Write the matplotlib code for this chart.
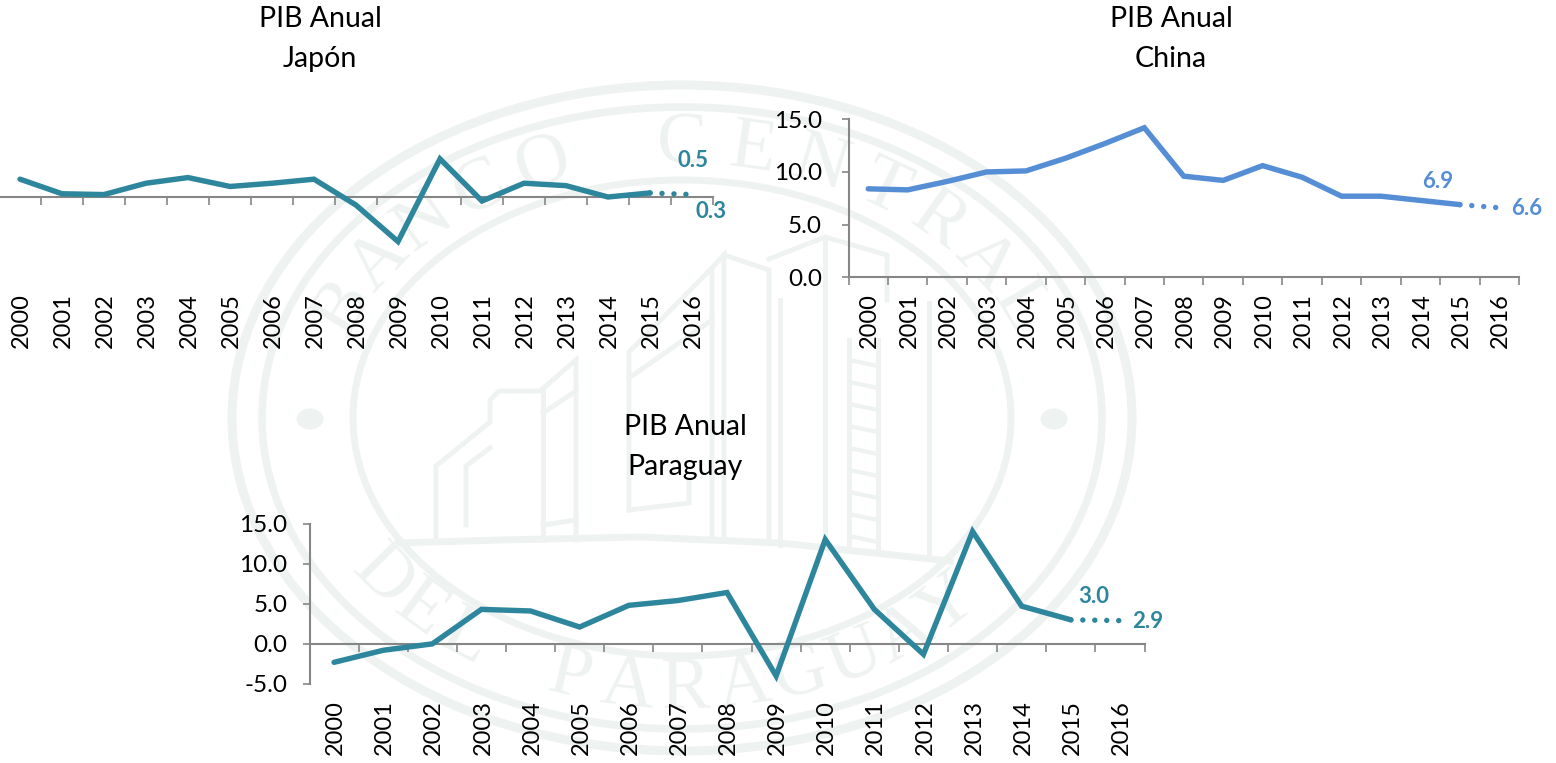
import numpy as np
import matplotlib
matplotlib.use("Agg")
import matplotlib.pyplot as plt
from matplotlib.patches import Ellipse

W, H = 1556, 763
years = [str(y) for y in range(2000, 2017)]
japan = [2.2, 0.4, 0.3, 1.7, 2.4, 1.3, 1.7, 2.2, -1.0, -5.5, 4.7, -0.5, 1.7, 1.4, 0.0, 0.5, 0.3]
china = [8.4, 8.3, 9.1, 10.0, 10.1, 11.3, 12.7, 14.2, 9.6, 9.2, 10.6, 9.5, 7.7, 7.7, 7.3, 6.9, 6.6]
paraguay = [-2.3, -0.8, 0.0, 4.3, 4.1, 2.1, 4.8, 5.4, 6.4, -4.0, 13.0, 4.3, -1.3, 14.0, 4.7, 3.0, 2.9]
titles = ["PIB Anual\nJapón", "PIB Anual\nChina", "PIB Anual\nParaguay"]
TEAL, BLUE, GREY, WM = "#2E869D", "#558ED5", "#868686", "#EEF2F1"

plt.rcParams["font.family"] = ["Lato", "DejaVu Sans"]
fig = plt.figure(figsize=(W / 100, H / 100), dpi=100, facecolor="white")

# background seal, in pixel coordinates
bg = fig.add_axes([0, 0, 1, 1], zorder=0)
bg.set_xlim(0, W); bg.set_ylim(H, 0); bg.axis("off")
cx, cy = 682, 418
for rx, ry, lw in [(450, 333, 6.5), (420, 311, 5.5), (329, 238, 5)]:
    bg.add_patch(Ellipse((cx, cy), 2 * rx, 2 * ry, fill=False, ec=WM, lw=lw))
for x in (310, 1054):
    bg.add_patch(Ellipse((x, 419), 27, 21, fc=WM, ec="none"))

def arc_text(s, a0, a1, rx, ry, flip=False):
    for ch, a in zip(s, np.linspace(a0, a1, len(s))):
        t = np.radians(a)
        x, y = cx + rx * np.cos(t), cy - ry * np.sin(t)
        rot = np.degrees(np.arctan2(np.sin(t) / ry, np.cos(t) / rx))
        rot = rot - 90 if not flip else rot + 90
        bg.text(x, y, ch, color=WM, fontsize=54, family="Liberation Serif",
                ha="center", va="center", rotation=rot, rotation_mode="anchor")

arc_text("BANCO CENTRAL", 156, 24, 370, 272)
arc_text("DEL PARAGUAY", 216, 316, 370, 272, flip=True)

# building outline
def poly(xs, ys, lw=3.5):
    bg.plot(xs, ys, color=WM, lw=lw, solid_joinstyle="miter")
poly([398, 500, 640, 780, 950], [543, 540, 537, 543, 561], 5)
poly([436, 436, 490, 490, 499, 540, 576, 576], [540, 466, 422, 400, 391, 391, 360, 540])
poly([466, 466, 490], [525, 466, 448])
poly([543, 543], [391, 540])
poly([543, 576], [413, 391])
poly([543, 576], [525, 520])
poly([629, 629, 712, 712], [510, 352, 268, 540])
poly([629, 712], [378, 320])
poly([629, 689, 689], [510, 503, 480])
poly([712, 724, 724], [268, 255, 540])
poly([724, 769, 769], [255, 270, 540])
poly([769, 825, 887, 887], [259, 237, 255, 300])
poly([780, 780], [300, 545])
poly([825, 825], [240, 548])
poly([849, 849], [340, 550])
poly([878, 878], [340, 552])
poly([929, 929], [303, 556])
for y in range(360, 540, 22):
    poly([849, 878], [y, y + 6], 3)

AX = [(-1, 713, 116, 278, TEAL), (848.5, 1519, 119.3, 277.3, BLUE), (309.5, 1144.5, 523.5, 684, TEAL)]
series = [japan, china, paraguay]
ylims = [(-10, 10), (0, 15), (-5, 15)]
showy = [False, True, True]
ypad = [0, 14, 11]
label_off = [((43, 32), (19, -17)), ((-22, 23), (27, -1)), ((23, 23), (28, -1))]
title_xy = [(320, 39), (1171, 39), (685, 447)]
label_y = [293, 293, 700]

for i, vals in enumerate(series):
    l, r, t, b, col = AX[i]
    ax = fig.add_axes([l / W, 1 - b / H, (r - l) / W, (b - t) / H], zorder=2)
    ax.patch.set_alpha(0)
    ax.set_xlim(-0.5, 16.5)
    ax.set_ylim(*ylims[i])
    x = np.arange(len(vals))
    ax.plot(x[:16], vals[:16], color=col, lw=3.9, solid_capstyle="round",
            solid_joinstyle="miter", clip_on=False, zorder=3)
    ax.plot(x[15:], vals[15:], color=col, lw=3.9, linestyle=(0, (0.01, 2.2)),
            dash_capstyle="round", clip_on=False, zorder=3)
    for sp in ("top", "right"):
        ax.spines[sp].set_visible(False)
    ax.spines["bottom"].set_position(("data", 0))
    for sp in ("bottom", "left"):
        ax.spines[sp].set_color(GREY)
        ax.spines[sp].set_linewidth(1.5)
    ax.set_xticks(np.arange(-0.5, 17, 1))
    ax.set_xticklabels([])
    ax.tick_params(axis="x", length=5.5, width=1.2, color=GREY, direction="out")
    if showy[i]:
        yt = np.arange(ylims[i][0], ylims[i][1] + 0.1, 5.0)
        ax.set_yticks(yt)
        ax.set_yticklabels([f"{v:.1f}" for v in yt], fontsize=17.5, color="black")
        ax.tick_params(axis="y", length=5, width=1.2, color=GREY, direction="out", pad=ypad[i])
    else:
        ax.spines["left"].set_visible(False)
        ax.set_yticks([])
    # category labels sit below the plot at a fixed level
    for xi, yr in zip(x, years):
        ax.annotate(yr, xy=(xi, 0), xycoords=("data", "figure pixels"),
                    xytext=(1.5, H - label_y[i]), textcoords="offset pixels",
                    rotation=90, ha="center", va="top", fontsize=17, color="black",
                    annotation_clip=False)
    for idx, off in zip((15, 16), label_off[i]):
        ax.annotate(f"{vals[idx]:.1f}", xy=(idx, vals[idx]), xytext=off,
                    textcoords="offset pixels", ha="center", va="center",
                    fontsize=16, fontweight="bold", color=col, annotation_clip=False)
    tx, ty = title_xy[i]
    bg.text(tx, ty, titles[i], ha="center", va="center", fontsize=20.5,
            linespacing=1.62, color="black", zorder=5)

fig.savefig("out.png", dpi=100)
